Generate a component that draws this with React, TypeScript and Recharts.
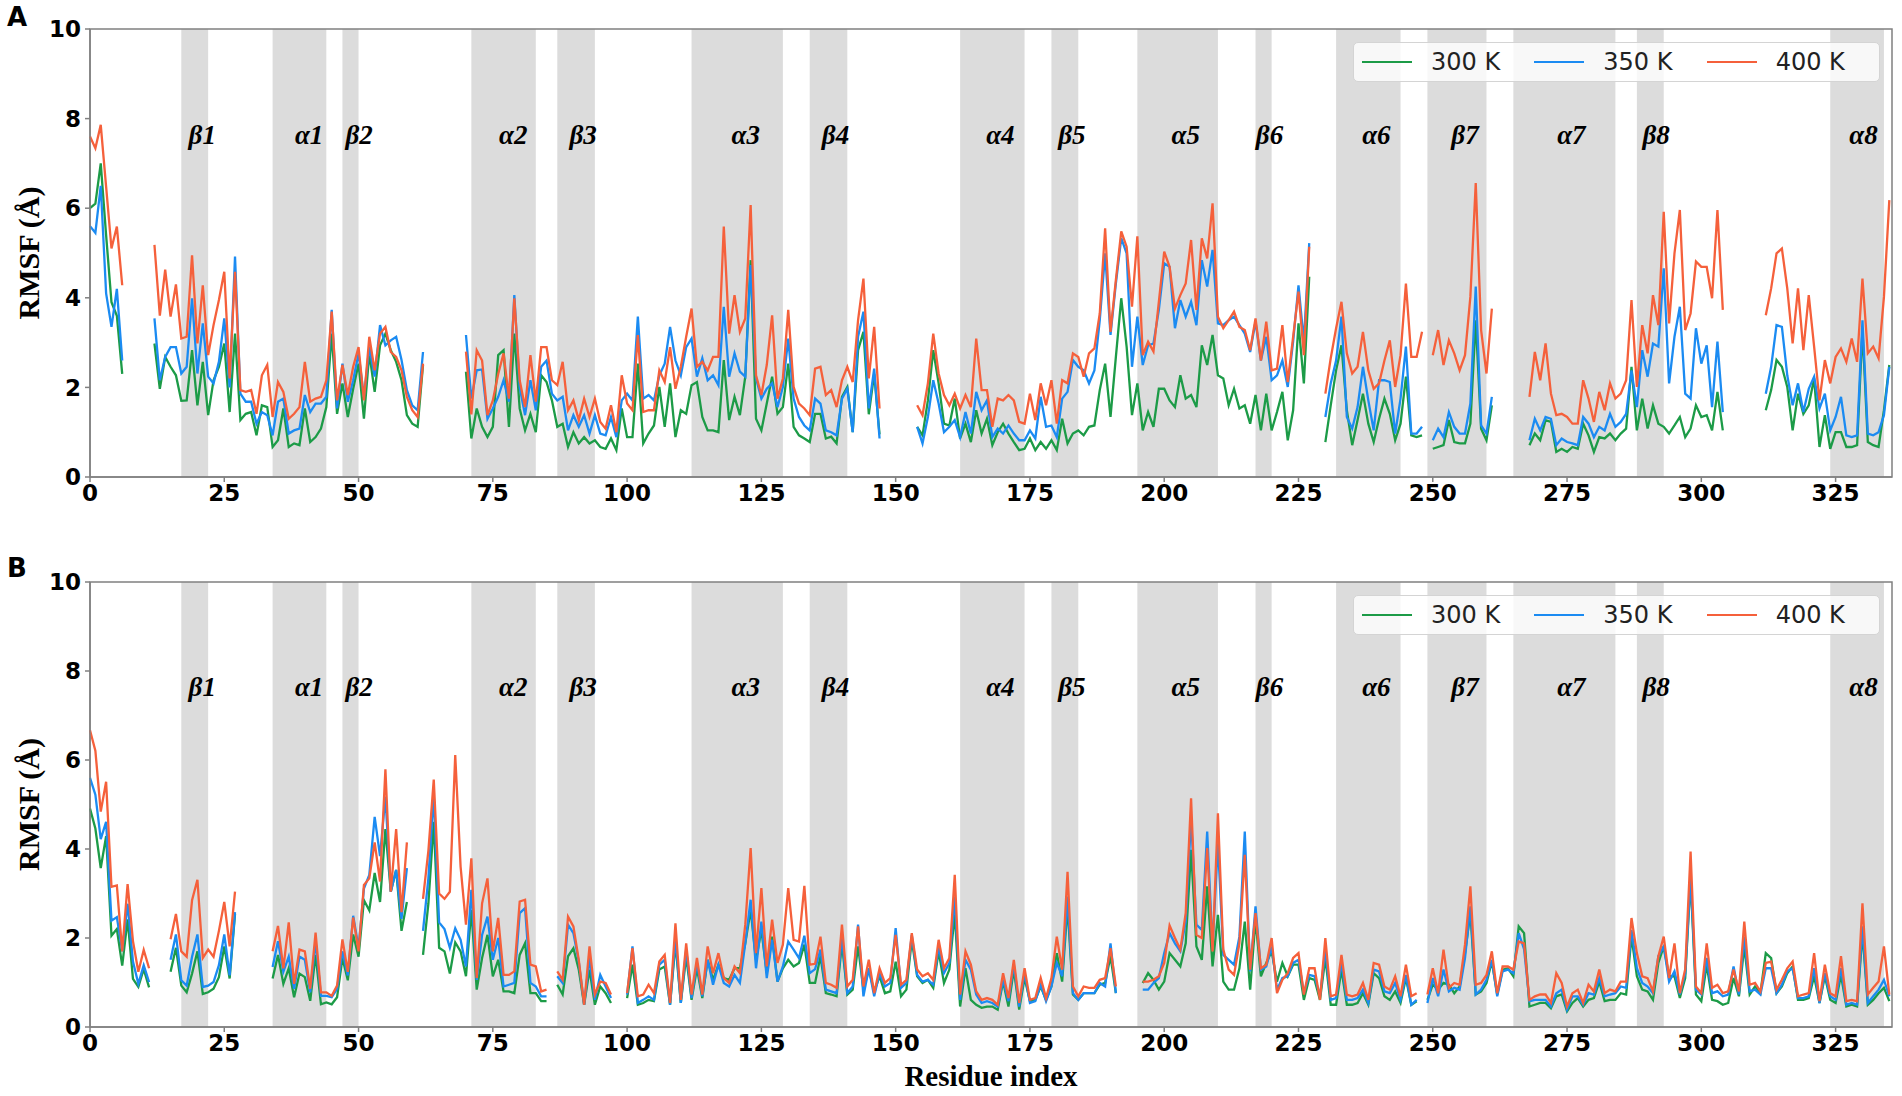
import React from 'react';
import { LineChart, Line, XAxis, YAxis, ReferenceArea, ReferenceDot, Legend } from 'recharts';

// residue axis
const residueCount = 336;
const xTicks = [0, 25, 50, 75, 100, 125, 150, 175, 200, 225, 250, 275, 300, 325];
const yTicks = [0, 2, 4, 6, 8, 10];

// secondary structure bands
const structureNames = ['β1', 'α1', 'β2', 'α2', 'β3', 'α3', 'β4', 'α4', 'β5', 'α5', 'β6', 'α6', 'β7', 'α7', 'β8', 'α8'];
const structureStarts = [17, 34, 47, 71, 87, 112, 134, 162, 179, 195, 217, 232, 249, 265, 288, 324];
const structureEnds = [22, 44, 50, 83, 94, 129, 141, 174, 184, 210, 220, 244, 260, 284, 293, 334];
const structureLabelAt = [20.9, 40.8, 50.1, 78.8, 91.8, 122.1, 138.8, 169.5, 182.8, 204, 219.6, 239.5, 256, 275.8, 291.6, 330.2];

const seriesNames = ['300 K', '350 K', '400 K'];
const seriesKeys = ['t300', 't350', 't400'];
const seriesColors = ['#1c9b47', '#1b8bf2', '#f5603b'];

// ---- panel A ----
const segmentsA = [[0, 6], [12, 62], [70, 147], [154, 227], [230, 248], [250, 261], [268, 304], [312, 335]];

const rmsfA300 = [
  [6.0, 6.1, 7.0, 5.4, 3.9, 3.6, 2.3],
  [2.98, 1.97, 2.68, 2.46, 2.27, 1.7, 1.71, 2.83, 1.6, 2.57, 1.38, 2.16, 2.46, 2.98, 1.45, 3.2, 1.27, 1.41, 1.45, 0.93,
    1.6, 1.56, 0.67, 0.82, 1.53, 0.67, 0.75, 0.71, 1.53, 0.78, 0.89, 1.08, 1.56, 3.2, 1.41, 2.09, 1.34, 1.97, 2.53, 1.3,
    2.76, 1.9, 2.94, 3.2, 2.83, 2.57, 2.16, 1.38, 1.19, 1.12, 2.5],
  [2.35, 0.86, 1.53, 1.12, 0.89, 1.12, 2.72, 2.83, 1.12, 3.2, 1.53, 1.04, 1.41, 1.0, 2.27, 2.12, 1.71, 1.12, 1.19, 0.67,
    1.0, 0.75, 0.89, 0.75, 0.82, 0.67, 0.63, 0.86, 0.6, 1.53, 0.89, 0.89, 2.53, 0.75, 0.97, 1.15, 2.01, 1.12, 2.09, 0.89,
    1.49, 1.41, 2.05, 2.12, 1.34, 1.04, 1.04, 1.0, 2.61, 1.27, 1.79, 1.38, 2.24, 4.84, 1.3, 1.04, 1.64, 2.24, 1.41, 1.56,
    2.53, 1.12, 0.93, 0.86, 0.78, 1.41, 1.41, 0.86, 0.9, 0.75, 1.79, 2.01, 1.0, 2.83, 3.24, 1.4, 2.3, 0.95],
  [1.12, 0.93, 1.71, 2.83, 2.09, 1.19, 1.15, 1.75, 0.86, 1.19, 0.78, 1.49, 0.97, 1.3, 0.71, 1.0, 1.19, 0.97, 0.78, 0.6,
    0.63, 0.86, 0.6, 0.78, 0.63, 0.82, 0.6, 1.3, 0.75, 0.97, 1.04, 0.93, 1.12, 1.15, 1.94, 2.53, 1.34, 2.68, 3.99, 2.91,
    1.38, 2.09, 1.04, 1.45, 1.12, 1.97, 1.97, 1.71, 1.56, 2.27, 1.75, 1.83, 1.56, 2.94, 2.5, 3.17, 2.27, 2.2, 1.6, 1.97,
    1.53, 1.6, 1.19, 1.83, 1.04, 1.86, 1.04, 1.45, 1.9, 0.82, 1.49, 3.43, 2.09, 4.47],
  [0.78, 1.6, 2.38, 2.94, 1.49, 0.71, 1.27, 1.86, 1.19, 0.78, 1.3, 1.75, 1.41, 0.82, 1.19, 2.24, 0.93, 0.89, 0.93],
  [0.63, 0.67, 0.71, 1.27, 0.78, 0.75, 0.75, 1.19, 3.5, 1.08, 0.82, 1.6],
  [0.71, 0.97, 0.82, 1.27, 1.23, 0.56, 0.63, 0.56, 0.67, 0.63, 1.19, 0.93, 0.56, 0.89, 0.86, 0.97, 0.82, 0.97, 1.08, 2.46,
    1.04, 1.75, 1.08, 1.6, 1.19, 1.12, 0.97, 1.15, 1.34, 0.89, 1.08, 1.6, 1.34, 1.38, 1.04, 1.9, 1.04],
  [1.49, 1.94, 2.61, 2.46, 2.01, 1.04, 1.86, 1.41, 1.6, 2.2, 0.67, 1.38, 0.63, 1.0, 1.0, 0.67, 0.67, 0.71, 3.28, 0.78,
    0.71, 0.67, 1.49, 2.5],
];

const rmsfA350 = [
  [5.6, 5.45, 6.5, 4.1, 3.35, 4.2, 2.6],
  [3.54, 2.16, 2.68, 2.9, 2.9, 2.31, 2.46, 3.99, 2.31, 3.43, 2.24, 2.09, 2.57, 3.54, 2.0, 4.92, 1.86, 1.68, 1.68, 1.19,
    1.45, 1.38, 0.93, 1.68, 1.75, 0.97, 1.04, 1.08, 1.83, 1.45, 1.64, 1.64, 1.79, 3.73, 1.53, 2.53, 1.68, 2.16, 2.76, 1.79,
    2.9, 2.24, 3.39, 2.94, 3.05, 3.13, 2.61, 1.94, 1.6, 1.49, 2.79],
  [3.17, 1.75, 2.38, 2.4, 1.3, 1.53, 1.79, 2.16, 1.68, 4.06, 2.0, 1.38, 2.16, 1.49, 2.46, 2.6, 1.86, 1.71, 1.79, 1.04,
    1.38, 1.12, 1.38, 0.97, 1.38, 0.97, 0.93, 1.34, 0.89, 1.71, 1.86, 1.71, 3.58, 1.75, 1.83, 1.71, 2.27, 2.53, 3.35, 2.6,
    2.27, 2.9, 3.09, 2.24, 2.65, 2.16, 2.27, 2.05, 3.8, 2.24, 2.76, 2.35, 2.24, 4.73, 2.2, 1.75, 1.97, 2.09, 1.56, 2.01,
    3.09, 1.75, 1.34, 1.15, 1.04, 1.75, 1.64, 1.04, 1.0, 0.93, 1.75, 1.97, 1.0, 3.13, 3.69, 1.53, 2.42, 0.86],
  [1.12, 0.75, 1.34, 2.16, 1.64, 1.0, 1.12, 1.27, 0.89, 1.45, 0.97, 1.9, 1.49, 1.71, 0.89, 1.08, 0.97, 1.15, 0.97, 0.82,
    0.82, 1.04, 0.86, 1.79, 1.12, 1.15, 0.89, 1.75, 1.9, 2.61, 2.46, 2.38, 2.09, 2.38, 3.5, 4.99, 3.17, 4.32, 5.33, 4.99,
    2.46, 3.58, 2.5, 2.94, 2.98, 3.73, 4.77, 4.69, 3.32, 3.95, 3.58, 3.91, 3.39, 4.84, 4.25, 5.07, 3.43, 3.39, 3.5, 3.58,
    3.39, 3.2, 2.79, 3.47, 2.6, 3.13, 2.16, 2.27, 2.6, 2.01, 3.02, 4.28, 3.02, 5.22],
  [1.34, 2.09, 2.6, 3.58, 1.34, 1.08, 1.56, 2.46, 1.71, 1.04, 2.16, 2.16, 2.12, 0.97, 1.75, 2.91, 0.97, 0.97, 1.12],
  [0.82, 1.08, 0.89, 1.45, 1.12, 0.97, 0.97, 1.64, 4.25, 1.15, 0.97, 1.79],
  [0.82, 1.3, 1.04, 1.34, 1.3, 0.71, 0.86, 0.78, 0.75, 0.71, 1.34, 1.19, 0.89, 1.12, 1.04, 1.41, 1.12, 1.23, 1.41, 2.38,
    1.56, 2.83, 2.24, 2.98, 2.91, 4.66, 2.09, 3.13, 3.8, 1.86, 1.75, 3.32, 2.53, 2.94, 1.56, 3.02, 1.45],
  [1.86, 2.46, 3.39, 3.35, 2.27, 1.6, 2.09, 1.45, 1.97, 2.24, 1.53, 1.86, 1.04, 1.34, 1.79, 0.93, 0.89, 0.93, 3.5, 0.97,
    0.93, 1.0, 1.38, 2.46],
];

const rmsfA400 = [
  [7.6, 7.34, 7.86, 6.48, 5.1, 5.59, 4.28],
  [5.18, 3.6, 4.63, 3.58, 4.3, 3.09, 3.13, 4.95, 2.98, 4.28, 2.72, 3.39, 3.95, 4.58, 2.2, 4.58, 1.94, 1.9, 1.94, 1.41,
    2.27, 2.5, 1.34, 2.12, 1.9, 1.3, 1.41, 1.56, 2.57, 1.68, 1.75, 1.79, 2.16, 3.69, 1.71, 2.5, 1.83, 2.46, 2.9, 1.71,
    3.13, 2.38, 3.2, 3.35, 2.79, 2.68, 2.38, 1.79, 1.49, 1.34, 2.53],
  [2.8, 1.4, 2.83, 2.6, 1.38, 1.71, 2.3, 2.76, 1.75, 3.99, 2.16, 1.56, 2.72, 1.68, 2.9, 2.9, 2.16, 2.05, 2.57, 1.49,
    1.71, 1.27, 1.75, 1.34, 1.75, 1.23, 1.08, 1.6, 1.0, 2.27, 1.64, 1.49, 3.17, 1.45, 1.49, 1.49, 2.38, 2.12, 2.9, 1.97,
    2.46, 3.13, 3.76, 2.46, 2.57, 2.38, 2.68, 2.68, 5.59, 3.2, 4.06, 3.24, 3.54, 6.07, 2.27, 1.83, 2.5, 3.61, 1.75, 2.2,
    3.73, 2.01, 1.64, 1.53, 1.38, 2.42, 2.46, 1.83, 1.94, 1.56, 2.16, 2.46, 2.12, 3.5, 4.43, 2.2, 3.35, 1.53],
  [1.6, 1.38, 2.09, 3.2, 2.31, 1.83, 1.6, 1.86, 1.53, 1.83, 1.56, 3.09, 1.94, 1.94, 1.12, 1.75, 1.71, 1.83, 1.71, 1.23,
    1.19, 1.86, 1.27, 2.09, 1.6, 2.16, 1.19, 2.16, 2.09, 2.76, 2.68, 2.24, 2.76, 2.87, 3.65, 5.55, 3.24, 4.4, 5.48, 5.14,
    3.8, 5.37, 2.72, 3.02, 2.8, 3.91, 5.03, 4.69, 3.76, 4.06, 4.32, 5.29, 3.73, 5.33, 4.88, 6.11, 3.58, 3.32, 3.5, 3.69,
    3.35, 3.28, 2.83, 3.54, 2.6, 3.47, 2.38, 2.42, 3.39, 2.12, 3.13, 4.14, 2.72, 5.14],
  [1.86, 2.65, 3.32, 3.91, 2.76, 2.31, 2.46, 3.24, 2.38, 1.97, 2.09, 2.6, 3.05, 2.01, 2.72, 4.32, 2.68, 2.68, 3.24],
  [2.72, 3.28, 2.5, 3.05, 2.76, 2.38, 2.72, 4.02, 6.56, 3.28, 2.31, 3.76],
  [1.79, 2.79, 2.16, 2.98, 1.86, 1.38, 1.41, 1.34, 1.19, 1.19, 2.16, 1.75, 1.23, 1.9, 1.49, 2.09, 1.75, 1.86, 2.16, 3.95,
    2.01, 3.39, 2.76, 4.06, 3.39, 5.92, 3.43, 4.99, 5.96, 3.28, 3.65, 4.81, 4.69, 4.69, 3.99, 5.96, 3.73],
  [3.61, 4.21, 4.99, 5.1, 4.21, 2.98, 4.21, 2.83, 4.06, 2.91, 1.71, 2.61, 2.09, 2.68, 2.87, 2.57, 3.09, 2.57, 4.43, 2.76,
    2.91, 2.65, 4.02, 6.18],
];

// ---- panel B ----
const segmentsB = [[0, 11], [15, 27], [34, 59], [62, 85], [87, 97], [100, 191], [196, 247], [249, 335]];

const rmsfB300 = [
  [4.91, 4.46, 3.57, 4.29, 2.05, 2.2, 1.38, 2.42, 1.08, 0.9, 1.3, 0.89],
  [1.24, 1.78, 0.93, 0.78, 1.2, 1.7, 0.74, 0.78, 0.86, 1.12, 1.81, 1.09, 2.54],
  [1.09, 1.62, 0.97, 1.32, 0.67, 1.2, 1.12, 0.59, 1.62, 0.51, 0.55, 0.51, 0.67, 1.55, 1.05, 2.08, 1.58, 2.85, 2.62, 3.46,
    2.81, 4.45, 3.04, 3.53, 2.16, 2.81],
  [1.62, 2.77, 4.61, 1.78, 1.7, 1.2, 1.9, 1.7, 1.14, 2.63, 0.84, 1.55, 2.07, 1.14, 1.51, 0.8, 0.8, 0.76, 1.62, 1.88,
    0.76, 0.76, 0.58, 0.58],
  [0.95, 0.73, 1.59, 1.77, 1.29, 0.5, 1.29, 0.5, 0.91, 0.76, 0.54],
  [0.65, 1.4, 0.5, 0.54, 0.61, 0.58, 1.29, 1.36, 0.5, 1.88, 0.54, 1.59, 0.61, 1.32, 0.65, 1.51, 1.06, 1.4, 1.1, 1.06,
    1.32, 1.32, 1.88, 2.63, 1.51, 2.18, 1.21, 2.03, 1.02, 1.32, 1.51, 1.36, 1.44, 1.85, 0.99, 0.99, 1.59, 0.76, 0.73, 0.69,
    1.88, 0.73, 0.84, 1.81, 0.84, 1.29, 0.8, 1.14, 0.76, 0.8, 1.47, 0.69, 0.84, 1.96, 1.14, 0.99, 1.06, 0.88, 1.7, 0.99,
    1.29, 2.56, 0.46, 1.32, 0.61, 0.5, 0.43, 0.46, 0.46, 0.39, 1.02, 0.46, 1.29, 0.39, 1.1, 0.58, 0.61, 0.91, 0.61, 0.91,
    1.66, 1.02, 2.71, 0.73, 0.61, 0.76, 0.76, 0.76, 0.95, 0.99, 1.59, 0.76],
  [0.99, 1.21, 1.06, 0.84, 1.02, 1.66, 1.51, 1.36, 1.88, 3.98, 1.81, 1.51, 3.16, 1.36, 2.52, 1.02, 0.84, 0.84, 1.32, 2.37,
    0.84, 2.41, 1.14, 1.44, 1.7, 1.02, 1.44, 1.14, 1.4, 1.4, 0.61, 1.1, 1.06, 0.61, 1.55, 0.5, 0.5, 1.29, 0.5, 0.5,
    0.54, 0.76, 0.5, 1.21, 1.1, 0.69, 0.61, 0.8, 0.54, 1.1, 0.5, 0.58],
  [0.61, 0.95, 0.84, 0.99, 0.95, 0.76, 0.91, 1.66, 2.56, 0.73, 0.8, 0.99, 1.47, 0.73, 1.29, 1.32, 1.14, 2.26, 2.11, 0.46,
    0.5, 0.54, 0.54, 0.42, 0.69, 0.73, 0.35, 0.54, 0.65, 0.46, 0.61, 0.65, 1.02, 0.58, 0.61, 0.61, 0.76, 0.73, 2.03, 1.14,
    0.84, 0.8, 0.61, 1.44, 1.81, 1.14, 1.14, 0.65, 1.1, 3.31, 0.73, 0.58, 1.4, 0.61, 0.58, 0.5, 0.54, 1.1, 0.69, 1.81,
    0.73, 0.91, 0.76, 1.66, 1.55, 0.76, 0.91, 1.21, 1.36, 0.61, 0.61, 0.65, 1.14, 0.54, 1.14, 0.61, 0.54, 1.17, 0.46, 0.5,
    0.46, 2.11, 0.5, 0.61, 0.76, 0.88, 0.58],
];

const rmsfB350 = [
  [5.6, 5.22, 4.22, 4.61, 2.39, 2.47, 1.7, 2.77, 1.47, 0.97, 1.39, 1.01],
  [1.51, 2.08, 1.05, 0.93, 1.58, 2.08, 0.9, 0.93, 1.01, 1.39, 2.08, 1.16, 2.58],
  [1.35, 1.93, 1.24, 1.58, 0.86, 1.58, 1.51, 0.78, 1.93, 0.7, 0.7, 0.67, 0.86, 1.7, 1.16, 2.5, 1.78, 3.11, 3.42, 4.72,
    3.84, 5.18, 3.04, 3.53, 2.43, 3.57],
  [2.16, 3.34, 5.22, 2.35, 2.2, 1.78, 2.22, 1.96, 1.36, 3.08, 1.06, 2.07, 2.48, 1.51, 2.0, 0.91, 0.95, 0.99, 2.56, 2.67,
    0.99, 0.91, 0.69, 0.69],
  [1.14, 0.99, 2.3, 2.11, 1.47, 0.5, 1.55, 0.61, 1.17, 0.91, 0.65],
  [0.73, 1.81, 0.54, 0.61, 0.69, 0.61, 1.4, 1.51, 0.5, 2.0, 0.54, 1.74, 0.65, 1.44, 0.69, 1.51, 0.95, 1.4, 0.99, 0.91,
    1.17, 0.99, 1.88, 2.86, 1.32, 2.37, 1.1, 1.96, 1.02, 1.36, 1.92, 1.74, 1.55, 2.05, 1.21, 1.3, 1.74, 0.84, 0.8, 0.76,
    2.03, 0.76, 0.91, 2.3, 0.69, 1.32, 0.69, 1.21, 0.91, 0.99, 2.22, 0.88, 0.99, 2.07, 1.17, 1.02, 1.06, 0.95, 1.81, 1.21,
    1.44, 2.93, 0.61, 1.51, 1.29, 0.73, 0.54, 0.58, 0.54, 0.46, 1.06, 0.58, 1.4, 0.46, 1.21, 0.54, 0.58, 0.95, 0.58, 0.91,
    1.44, 1.14, 2.93, 0.76, 0.61, 0.76, 0.76, 0.76, 0.99, 0.91, 1.88, 0.76],
  [0.84, 0.84, 0.99, 1.1, 1.66, 2.11, 1.88, 1.7, 2.37, 4.69, 2.3, 2.18, 4.39, 1.81, 4.13, 1.62, 1.51, 1.4, 2.03, 4.39,
    1.25, 2.71, 1.29, 1.36, 1.81, 0.84, 1.1, 1.14, 1.44, 1.51, 0.76, 1.17, 1.14, 0.69, 1.74, 0.61, 0.65, 1.44, 0.61, 0.61,
    0.65, 0.84, 0.54, 1.29, 1.25, 0.8, 0.76, 0.99, 0.61, 1.17, 0.5, 0.61],
  [0.54, 1.1, 0.69, 1.29, 0.8, 0.88, 0.84, 1.55, 2.71, 0.73, 0.84, 1.06, 1.51, 0.69, 1.25, 1.29, 1.21, 2.11, 1.75, 0.58,
    0.61, 0.61, 0.61, 0.46, 0.76, 0.84, 0.39, 0.69, 0.69, 0.5, 0.76, 0.73, 1.1, 0.69, 0.73, 0.76, 0.91, 0.88, 2.18, 1.32,
    0.99, 0.91, 0.76, 1.59, 1.81, 1.02, 1.25, 0.73, 1.2, 3.38, 0.84, 0.73, 1.55, 0.76, 0.8, 0.69, 0.73, 1.36, 0.73, 2.03,
    0.8, 0.84, 0.73, 1.32, 1.32, 0.76, 0.95, 1.25, 1.32, 0.65, 0.65, 0.69, 1.32, 0.54, 1.21, 0.69, 0.61, 1.32, 0.5, 0.54,
    0.5, 2.26, 0.54, 0.69, 0.84, 1.06, 0.69],
];

const rmsfB400 = [
  [6.67, 6.21, 4.84, 5.51, 3.15, 3.18, 1.7, 3.21, 1.93, 1.24, 1.73, 1.32],
  [1.97, 2.54, 1.7, 1.58, 2.85, 3.31, 1.55, 1.74, 1.58, 2.16, 2.81, 1.81, 3.04],
  [1.7, 2.27, 1.32, 2.35, 0.97, 1.74, 1.7, 0.86, 2.12, 0.78, 0.78, 0.7, 0.93, 1.97, 1.24, 2.46, 1.7, 3.19, 3.34, 4.15,
    3.27, 5.79, 3.04, 4.45, 2.58, 4.15],
  [2.88, 3.96, 5.56, 3.0, 2.88, 3.04, 6.11, 3.6, 2.3, 3.79, 1.1, 2.78, 3.34, 1.7, 2.45, 1.17, 1.17, 1.25, 2.82, 2.86,
    1.4, 1.36, 0.8, 0.84],
  [1.25, 1.06, 2.48, 2.26, 1.51, 0.5, 1.81, 0.73, 1.02, 0.99, 0.73],
  [0.76, 1.77, 0.69, 0.73, 0.95, 0.76, 1.47, 1.62, 0.54, 2.33, 0.61, 1.88, 0.73, 1.55, 0.73, 1.81, 1.21, 1.66, 1.1, 0.99,
    1.36, 1.21, 2.3, 4.02, 1.66, 3.12, 1.36, 2.41, 1.44, 1.85, 3.12, 1.96, 1.92, 3.17, 1.4, 1.42, 2.03, 0.99, 0.95, 0.88,
    2.3, 0.91, 1.06, 2.26, 0.91, 1.51, 0.76, 1.32, 0.99, 1.1, 2.07, 0.95, 1.06, 2.11, 1.29, 1.14, 1.21, 1.06, 1.96, 1.32,
    1.55, 3.42, 0.73, 1.7, 1.4, 0.8, 0.61, 0.65, 0.61, 0.5, 1.21, 0.65, 1.51, 0.54, 1.32, 0.61, 0.65, 1.1, 0.65, 1.1,
    2.03, 1.29, 3.49, 0.91, 0.69, 0.91, 0.88, 0.88, 1.06, 1.1, 1.77, 0.91],
  [1.02, 1.02, 1.06, 1.14, 1.44, 2.28, 2.0, 1.74, 2.56, 5.14, 2.07, 2.0, 4.02, 1.7, 4.8, 1.74, 1.29, 1.17, 1.88, 3.87,
    1.29, 2.56, 1.32, 1.4, 2.0, 0.76, 1.06, 1.21, 1.55, 1.66, 0.73, 1.32, 1.32, 0.61, 2.0, 0.69, 0.73, 1.62, 0.73, 0.69,
    0.73, 0.99, 0.61, 1.44, 1.4, 0.91, 0.84, 1.14, 0.69, 1.4, 0.69, 0.76],
  [0.73, 1.32, 0.76, 1.74, 0.88, 0.99, 0.95, 1.85, 3.16, 0.95, 0.99, 1.17, 1.7, 0.76, 1.36, 1.36, 1.29, 1.92, 1.88, 0.61,
    0.69, 0.73, 0.73, 0.54, 1.21, 0.99, 0.46, 0.76, 0.84, 0.54, 0.95, 0.8, 1.29, 0.76, 0.84, 0.8, 1.02, 1.02, 2.45, 1.66,
    1.14, 1.1, 0.8, 1.59, 2.03, 1.1, 1.88, 0.76, 1.3, 3.94, 0.91, 0.76, 1.88, 0.88, 0.95, 0.76, 0.8, 1.29, 0.8, 2.37,
    0.95, 0.99, 0.8, 1.44, 1.47, 0.84, 1.06, 1.32, 1.47, 0.69, 0.73, 0.76, 1.66, 0.58, 1.4, 0.76, 0.69, 1.59, 0.58, 0.61,
    0.58, 2.78, 0.73, 0.88, 1.02, 1.81, 0.73],
];

type Row = { residue: number; [k: string]: number | null };

function buildRows(segments: number[][], series: number[][][]): Row[] {
  const rows: Row[] = [];
  for (let i = 0; i < residueCount; i++) {
    rows.push({ residue: i, t300: null, t350: null, t400: null });
  }
  series.forEach((segValues, s) => {
    segments.forEach(([start], k) => {
      segValues[k].forEach((v, j) => {
        rows[start + j][seriesKeys[s]] = v;
      });
    });
  });
  return rows;
}

const rowsA = buildRows(segmentsA, [rmsfA300, rmsfA350, rmsfA400]);
const rowsB = buildRows(segmentsB, [rmsfB300, rmsfB350, rmsfB400]);

const xDomain: [number, number] = [0, 335.5];
const axisGray = '#808080';
const tickFont = { fontSize: 23, fontWeight: 700, fill: '#000', fontFamily: 'DejaVu Sans' };

const renderYLabel = (props: any) => {
  const { viewBox } = props;
  const cx = viewBox.x + 28;
  const cy = viewBox.y + viewBox.height / 2;
  return (
    <text x={cx} y={cy} transform={`rotate(-90 ${cx} ${cy})`} textAnchor="middle" dominantBaseline="central"
      fontFamily="Liberation Serif" fontWeight={700} fontSize={30} fill="#000">
      RMSF (Å)
    </text>
  );
};

const renderXLabel = (props: any) => {
  const { viewBox } = props;
  return (
    <text x={viewBox.x + viewBox.width / 2} y={viewBox.y + 49} textAnchor="middle" dominantBaseline="central"
      fontFamily="Liberation Serif" fontWeight={700} fontSize={29} fill="#000">
      Residue index
    </text>
  );
};

const renderLegend = () => (
  <div style={{
    width: 527, height: 40, boxSizing: 'border-box', border: '1.5px solid #d4d4d4', borderRadius: 5,
    background: 'rgba(255,255,255,0.8)', display: 'flex', alignItems: 'center',
    fontFamily: 'DejaVu Sans', fontSize: 24, color: '#222',
  }}>
    {seriesNames.map((name, i) => (
      <div key={name} style={{ display: 'flex', alignItems: 'center', width: 186, marginLeft: i === 0 ? 8 : 0 }}>
        <div style={{ width: 50, borderTop: `2.5px solid ${seriesColors[i]}` }} />
        <span style={{ marginLeft: 19 }}>{name}</span>
      </div>
    ))}
  </div>
);

type PanelProps = {
  rows: Row[];
  letter: string;
  top: number;
  height: number;
  marginTop: number;
  xAxisHeight: number;
  legendTop: number;
  showXLabel: boolean;
};

function Panel({ rows, letter, top, height, marginTop, xAxisHeight, legendTop, showXLabel }: PanelProps) {
  return (
    <div style={{ position: 'absolute', left: 0, top, width: 1902, height }}>
      <div style={{ position: 'absolute', left: 7, top: letter === 'A' ? 4 : 5, fontFamily: 'DejaVu Sans', fontWeight: 700, fontSize: 26, lineHeight: '26px', zIndex: 2 }}>
        {letter}
      </div>
      <LineChart width={1902} height={height} data={rows} margin={{ top: marginTop, right: 10, bottom: 0, left: 0 }}>
        {structureNames.map((name, i) => (
          <ReferenceArea key={`band-${name}`} x1={structureStarts[i]} x2={structureEnds[i]}
            fill="#dcdcdc" fillOpacity={1} stroke="none" ifOverflow="hidden" />
        ))}
        <XAxis dataKey="residue" type="number" domain={xDomain} ticks={xTicks} interval={0}
          height={xAxisHeight} tick={tickFont} tickSize={5} tickMargin={3}
          stroke={axisGray} strokeWidth={1.5} tickLine={{ stroke: axisGray, strokeWidth: 1.5 }}
          label={showXLabel ? renderXLabel : undefined} />
        <YAxis type="number" domain={[0, 10]} ticks={yTicks} interval={0} width={90}
          tick={tickFont} tickSize={5} tickMargin={4}
          stroke={axisGray} strokeWidth={1.5} tickLine={{ stroke: axisGray, strokeWidth: 1.5 }}
          label={renderYLabel} />
        {structureNames.map((name, i) => (
          <ReferenceDot key={`label-${name}`} x={structureLabelAt[i]} y={7.65} r={0} stroke="none" fill="none"
            label={{ value: name, position: 'center', fill: '#000', fontSize: 27, fontWeight: 700,
              fontStyle: 'italic', fontFamily: 'Liberation Serif' }} />
        ))}
        {seriesKeys.map((key, i) => (
          <Line key={key} type="linear" dataKey={key} name={seriesNames[i]} stroke={seriesColors[i]}
            strokeWidth={2.3} dot={false} activeDot={false} connectNulls={false} isAnimationActive={false} />
        ))}
        {/* plot frame */}
        <ReferenceArea x1={xDomain[0]} x2={xDomain[1]} y1={0} y2={10} fill="none" stroke={axisGray}
          strokeWidth={1.5} ifOverflow="visible" />
        <Legend layout="vertical" align="center" verticalAlign="middle" content={renderLegend}
          wrapperStyle={{ top: legendTop, left: 1353, width: 527, height: 40 }} />
      </LineChart>
    </div>
  );
}

export default function App() {
  return (
    <div style={{ position: 'absolute', left: 0, top: 0, width: 1902, height: 1096, background: '#fff', overflow: 'hidden' }}>
      <Panel rows={rowsA} letter="A" top={0} height={530} marginTop={29} xAxisHeight={53} legendTop={42} showXLabel={false} />
      <Panel rows={rowsB} letter="B" top={550} height={546} marginTop={32} xAxisHeight={69} legendTop={45} showXLabel={true} />
    </div>
  );
}
